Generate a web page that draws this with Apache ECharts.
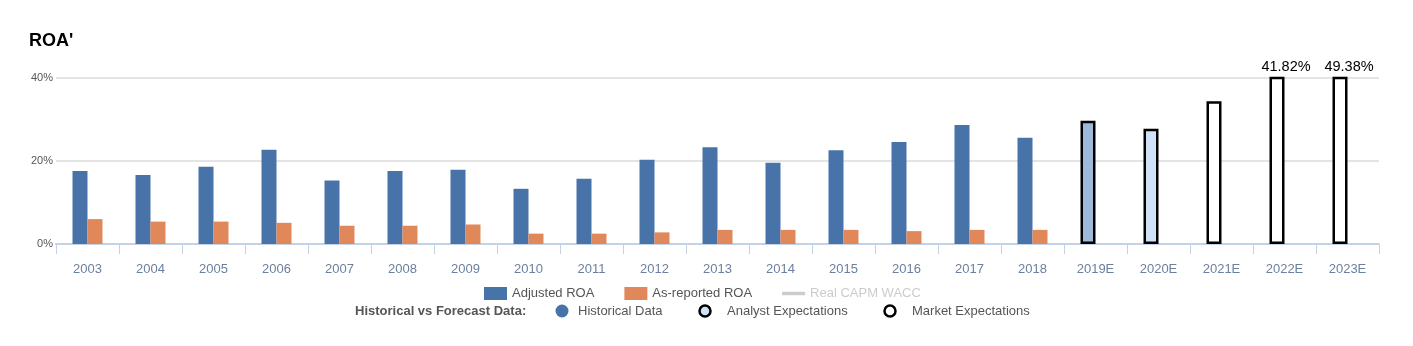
<!DOCTYPE html>
<html>
<head>
<meta charset="utf-8">
<script src="https://cdn.jsdelivr.net/npm/echarts@6/dist/echarts.min.js"></script>
<style>
  html, body { margin: 0; padding: 0; background: #fff; }
  #chart { width: 1413px; height: 346px; }
</style>
</head>
<body>
<div id="chart"></div>
<script>
// Fiscal years, historical and estimated
const years = ['2003','2004','2005','2006','2007','2008','2009','2010','2011','2012',
               '2013','2014','2015','2016','2017','2018','2019E','2020E','2021E','2022E','2023E'];

// Adjusted ROA (%), historical through 2018 then forecasts
const adjustedRoa = [17.6, 16.6, 18.6, 22.7, 15.3, 17.6, 17.9, 13.3, 15.7, 20.3,
                     23.3, 19.6, 22.6, 24.6, 28.7, 25.6, 29.7, 27.8, 34.4, 41.82, 49.38];

// As-reported ROA (%), historical only
const reportedRoa = [6.0, 5.4, 5.4, 5.1, 4.4, 4.4, 4.7, 2.5, 2.5, 2.8,
                     3.4, 3.4, 3.4, 3.1, 3.4, 3.4];

// Forecast kind per estimated year: analyst consensus or market implied
const forecastKind = { '2019E': 'analystA', '2020E': 'analystB', '2021E': 'market', '2022E': 'market', '2023E': 'market' };

const yTicks = { min: 0, max: 40, interval: 20 };

const FONT = '"Liberation Sans", Arial, sans-serif';
const BLUE = '#4873a9';
const ORANGE = '#e0885a';
const fills = { analystA: '#9fb9dd', analystB: '#cfe2f8', market: '#ffffff' };

const adjustedData = adjustedRoa.map((v, i) => {
  const kind = forecastKind[years[i]];
  if (!kind) return { value: v };
  const item = {
    value: v,
    itemStyle: { color: fills[kind], borderColor: '#000', borderWidth: 2.5 }
  };
  if (v > yTicks.max) {
    item.label = {
      show: true, position: 'top', distance: 2, offset: [9, 0],
      formatter: (p) => p.value.toFixed(2) + '%',
      color: '#000', fontSize: 14.5, fontFamily: FONT
    };
  }
  return item;
});

const chart = echarts.init(document.getElementById('chart'), null, { renderer: 'canvas' });

const legendRowY = 311;
chart.setOption({
  animation: false,
  textStyle: { fontFamily: FONT },
  title: {
    text: "ROA'", left: 24, top: 27,
    textStyle: { fontSize: 18, fontWeight: 'bold', color: '#000', fontFamily: FONT }
  },
  grid: { left: 56, right: 34, top: 78, bottom: 102 },
  legend: {
    left: 479, top: 282,
    itemWidth: 23, itemHeight: 13, itemGap: 30,
    textStyle: { fontSize: 13, color: '#555', fontFamily: FONT },
    inactiveColor: '#cccccc',
    data: [
      { name: 'Adjusted ROA', icon: 'rect' },
      { name: 'As-reported ROA', icon: 'rect' },
      { name: 'Real CAPM WACC', icon: 'path://M0,0H20V3H0Z' }
    ],
    selected: { 'Real CAPM WACC': false }
  },
  xAxis: {
    type: 'category',
    data: years,
    axisLine: { lineStyle: { color: '#c3d2e6', width: 2 } },
    axisTick: { show: true, length: 10, lineStyle: { color: '#c3d2e6', width: 1 } },
    axisLabel: { color: '#6b7f9e', fontSize: 13, margin: 19, fontFamily: FONT }
  },
  yAxis: {
    type: 'value',
    min: yTicks.min, max: yTicks.max, interval: yTicks.interval,
    axisLine: { show: false },
    axisTick: { show: false },
    axisLabel: { formatter: '{value}%', color: '#555', fontSize: 11, margin: 3, fontFamily: FONT },
    splitLine: { lineStyle: { color: '#e4e4e4', width: 2 } }
  },
  series: [
    {
      name: 'Adjusted ROA', type: 'bar', barWidth: 15, barGap: '0%',
      itemStyle: { color: BLUE },
      data: adjustedData
    },
    {
      name: 'As-reported ROA', type: 'bar', barWidth: 15,
      itemStyle: { color: ORANGE },
      data: reportedRoa
    },
    {
      name: 'Real CAPM WACC', type: 'line', symbol: 'none',
      lineStyle: { color: '#bbbbbb', width: 3 },
      itemStyle: { color: '#bbbbbb' },
      data: []
    }
  ],
  graphic: [
    { type: 'text', left: 355, top: legendRowY - 6,
      style: { text: 'Historical vs Forecast Data:', font: 'bold 13px ' + FONT, fill: '#555' } },
    { type: 'circle', shape: { cx: 562, cy: legendRowY, r: 6.5 }, style: { fill: BLUE } },
    { type: 'text', left: 578, top: legendRowY - 6,
      style: { text: 'Historical Data', font: '13px ' + FONT, fill: '#555' } },
    { type: 'circle', shape: { cx: 705, cy: legendRowY, r: 5.5 },
      style: { fill: '#cfe2f8', stroke: '#000', lineWidth: 2.5 } },
    { type: 'text', left: 727, top: legendRowY - 6,
      style: { text: 'Analyst Expectations', font: '13px ' + FONT, fill: '#555' } },
    { type: 'circle', shape: { cx: 890, cy: legendRowY, r: 5.5 },
      style: { fill: '#fff', stroke: '#000', lineWidth: 2.5 } },
    { type: 'text', left: 912, top: legendRowY - 6,
      style: { text: 'Market Expectations', font: '13px ' + FONT, fill: '#555' } }
  ]
});
</script>
</body>
</html>
